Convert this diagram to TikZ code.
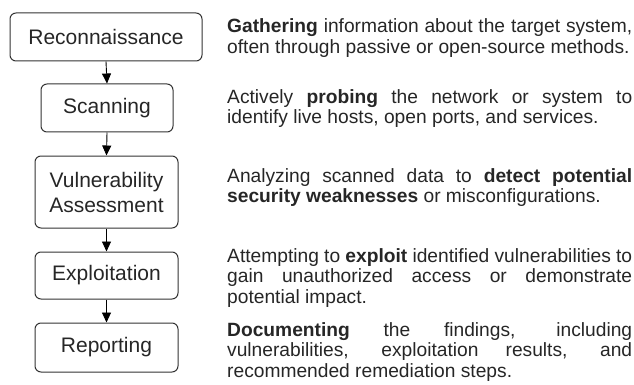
\documentclass[tikz,border=0pt]{standalone}
\usepackage{fontspec}
\setmainfont{Liberation Sans}
\usetikzlibrary{arrows.meta}

\definecolor{boxline}{HTML}{333333}
\definecolor{ink}{HTML}{262626}

% keep the forced line breaks as the only ones
\tolerance=9999
\hyphenpenalty=10000

\begin{document}
\begin{tikzpicture}
[x=1pt,y=-1pt,
 every node/.style={text=ink},
 phase/.style={draw=boxline,line width=1pt,rounded corners=6pt,align=center,inner sep=0pt,
   font=\fontsize{21}{25}\selectfont},
 note/.style={anchor=base west,text width=405pt,align=justify,inner sep=0pt,
   font=\fontsize{19.2}{20.8}\selectfont},
 flow/.style={-{Triangle[length=10pt,width=9pt]},line width=0.9pt,black}]
\useasboundingbox (0,0) rectangle (634,385);
% the five phases
\node[phase,minimum width=192pt,minimum height=48pt] (recon) at (106,37) {Reconnaissance};
\node[phase,minimum width=132pt,minimum height=48pt] (scan) at (107,108) {Scanning};
\node[phase,minimum width=143pt,minimum height=72pt] (vuln) at (106.5,192) {Vulnerability\\Assessment};
\node[phase,minimum width=143pt,minimum height=47pt] (exploit) at (106.5,275.5) {Exploitation};
\node[phase,minimum width=143pt,minimum height=49pt] (report) at (106.5,347.5) {Reporting};
% what each phase does
\node[note] (recontxt) at (227,33) {\textbf{Gathering} information about the target system,\linebreak often through passive or open-source methods.};
\node[note] (scantxt) at (227,103) {Actively \textbf{probing} the network or system to\linebreak identify live hosts, open ports, and services.};
\node[note] (vulntxt) at (227,182) {Analyzing scanned data to \textbf{detect potential}\linebreak \textbf{security weaknesses} or misconfigurations.};
\node[note] (exploittxt) at (227,262) {Attempting to \textbf{exploit} identified vulnerabilities to\linebreak gain unauthorized access or demonstrate\linebreak potential impact.};
\node[note] (reporttxt) at (227,336) {\textbf{Documenting} the findings, including\linebreak vulnerabilities, exploitation results, and\linebreak recommended remediation steps.};
\foreach \from/\to in {recon/scan,scan/vuln,vuln/exploit,exploit/report}
\draw[flow] (\from.south) -- (\to.north);
\end{tikzpicture}
\end{document}
